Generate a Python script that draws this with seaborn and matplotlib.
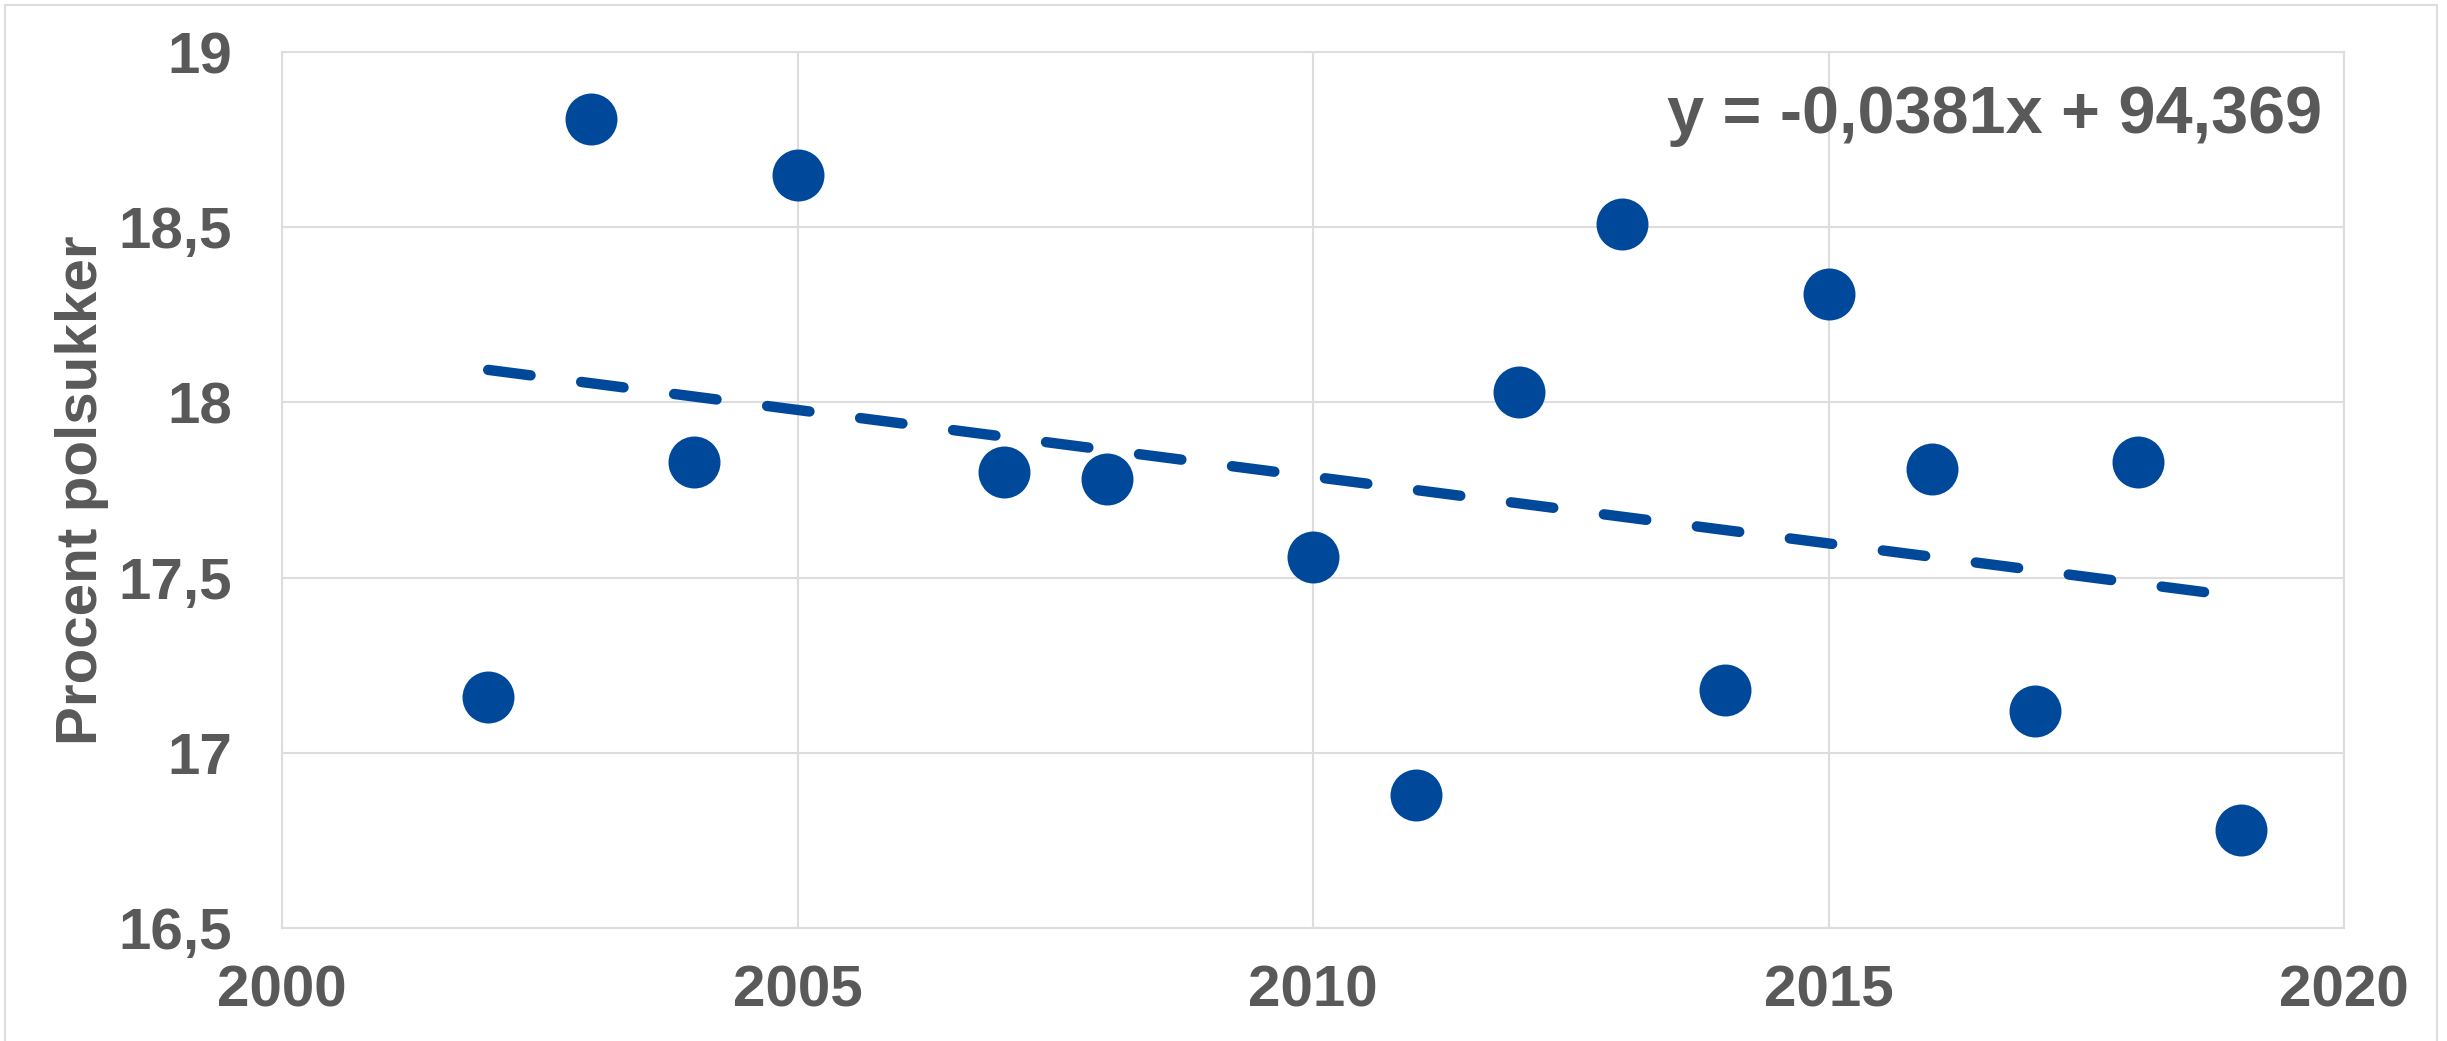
import matplotlib
matplotlib.use("Agg")
import matplotlib.pyplot as plt
import seaborn as sns
import pandas as pd
import numpy as np
from matplotlib.patches import Rectangle

# data
years = [2002, 2003, 2004, 2005, 2007, 2008, 2010, 2011,
         2012, 2013, 2014, 2015, 2016, 2017, 2018, 2019]
polsukker = [17.16, 18.81, 17.83, 18.65, 17.80, 17.78, 17.56, 16.88,
             18.03, 18.51, 17.18, 18.31, 17.81, 17.12, 17.83, 16.78]

# trend line as printed on the chart
trend_slope = -0.0381
trend_intercept = 94.369
equation = "y = -0,0381x + 94,369"

x_ticks = [2000, 2005, 2010, 2015, 2020]
y_ticks = [16.5, 17, 17.5, 18, 18.5, 19]
y_tick_labels = ["16,5", "17", "17,5", "18", "18,5", "19"]
y_label = "Procent polsukker"

blue = "#00499A"
grey_text = "#595959"
grid_col = "#DDDDDD"

df = pd.DataFrame({"year": years, "pct": polsukker})
trend_x = np.array([min(years), max(years)])
trend_df = pd.DataFrame({"year": trend_x, "pct": trend_slope * trend_x + trend_intercept})

sns.set_style("white")
plt.rcParams["font.family"] = ["Liberation Sans", "DejaVu Sans"]
plt.rcParams["font.weight"] = "bold"

fig = plt.figure(figsize=(24.47, 10.41), dpi=100)
ax = fig.add_axes([282 / 2447, 1 - 928 / 1041, (2344 - 282) / 2447, (928 - 52) / 1041])

# trend line (dashed, round caps)
sns.lineplot(data=trend_df, x="year", y="pct", ax=ax, color=blue, linewidth=7.5, zorder=2)
tl = ax.lines[-1]
tl.set_dashes([4.1, 4.9])
tl.set_dash_capstyle("round")

# points
sns.scatterplot(data=df, x="year", y="pct", ax=ax, color=blue, s=1400,
                linewidth=0, zorder=3)

ax.set_xlim(2000, 2020)
ax.set_ylim(16.5, 19)
ax.set_xticks(x_ticks)
ax.set_xticklabels([str(t) for t in x_ticks])
ax.set_yticks(y_ticks)
ax.set_yticklabels(y_tick_labels)
ax.tick_params(axis="both", length=0, labelsize=42, labelcolor=grey_text)
ax.tick_params(axis="y", pad=36)
ax.tick_params(axis="x", pad=26)
for lab in ax.get_xticklabels() + ax.get_yticklabels():
    lab.set_fontweight("bold")

ax.grid(True, color=grid_col, linewidth=1.5)
ax.set_axisbelow(True)
for sp in ax.spines.values():
    sp.set_color(grid_col)
    sp.set_linewidth(1.5)

ax.set_xlabel("")
ax.set_ylabel(y_label, fontsize=42, fontweight="bold", color=grey_text)
ax.yaxis.set_label_coords(-0.084, 0.5)

ax.text(0.9893, 0.9075, equation, transform=ax.transAxes, ha="right", va="baseline",
        fontsize=48, fontweight="bold", color=grey_text)

# chart area border
fig.add_artist(Rectangle((5 / 2447, -0.01), (2437 - 5) / 2447, 1.01 - 5 / 1041,
                         transform=fig.transFigure, fill=False,
                         edgecolor=grid_col, linewidth=1.5))

fig.savefig("out.png", dpi=100, facecolor="white")
